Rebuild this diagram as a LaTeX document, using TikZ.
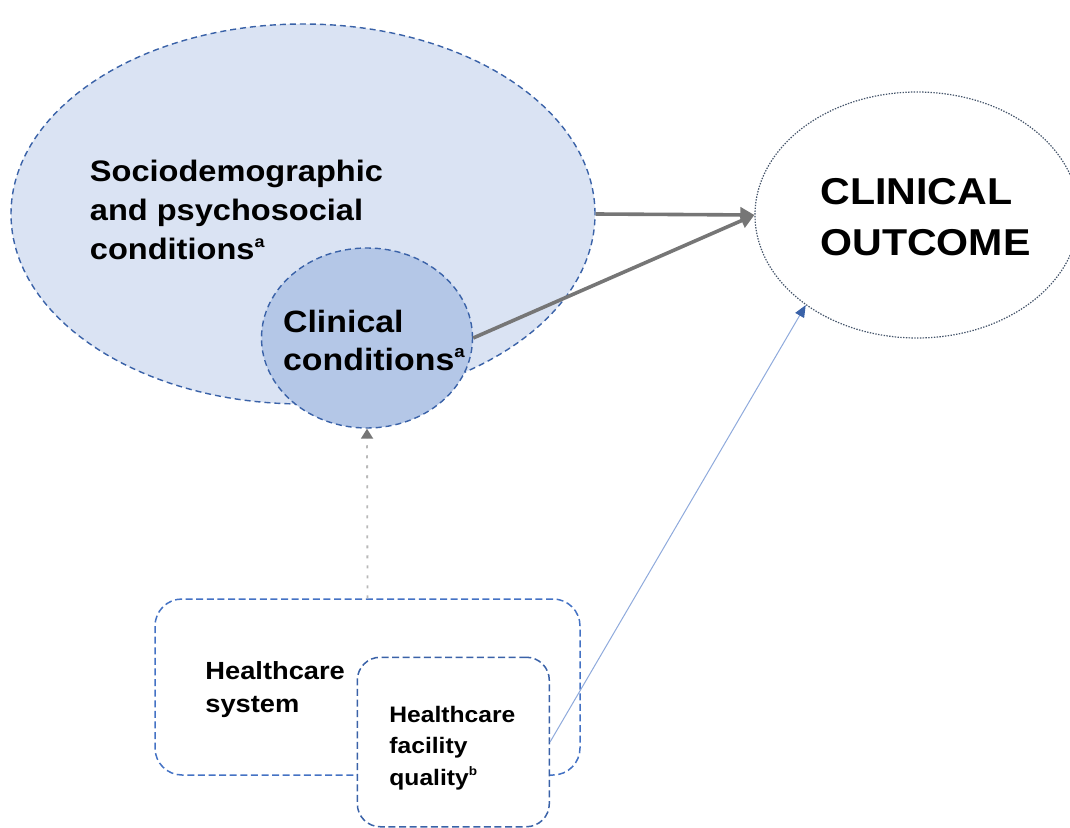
\documentclass[tikz,border=0pt]{standalone}
\usepackage{fontspec}
\setmainfont{Liberation Sans}[FakeStretch=1.1]
\usetikzlibrary{arrows.meta,shapes.geometric}

\definecolor{socfill}{HTML}{DAE3F3}
\definecolor{clinfill}{HTML}{B4C7E7}
\definecolor{rimblue}{HTML}{4472C4}
\definecolor{deepblue}{HTML}{3A62A8}
\definecolor{paleblue}{HTML}{8FAADC}
\definecolor{arrowgray}{HTML}{767676}
\definecolor{dotgray}{HTML}{B8B8B8}
\definecolor{goalrim}{HTML}{44546A}

\newcommand{\notemark}[1]{\raisebox{0.42em}{\fontsize{0.55em}{0.6em}\selectfont #1}}

\begin{document}
\begin{tikzpicture}[x = 0.5pt, y = -0.5pt,
  blob/.style  = {ellipse, draw = deepblue, line width = 0.7pt, dash pattern = on 3pt off 2pt, inner sep = 0pt},
  goal/.style  = {ellipse, draw = goalrim, line width = 0.6pt, dash pattern = on 0.7pt off 0.7pt, fill = white, inner sep = 0pt},
  care/.style  = {rectangle, draw = rimblue, line width = 0.75pt, dash pattern = on 3.5pt off 1.8pt, fill = white, inner sep = 0pt},
  lbl/.style   = {font = \bfseries, align = left, inner sep = 0pt, anchor = north west},
  flow/.style  = {draw = arrowgray, line width = 1.8pt, -{Triangle[length = 7pt, width = 7.5pt]}},
  hint/.style  = {draw = dotgray, line width = 0.9pt, dash pattern = on 1.5pt off 3.5pt, -{Triangle[length = 5pt, width = 6pt, color = arrowgray]}},
  link/.style  = {draw = paleblue, line width = 0.5pt, -{Triangle[length = 6pt, width = 5pt, color = deepblue]}}]

  \useasboundingbox (0,0) rectangle (1070,828);

  % Conditions of the patient
  \node[blob, fill = socfill,  minimum width = 292pt,   minimum height = 190pt] (socio) at (303,214) {};
  \node[blob, fill = clinfill, minimum width = 105.5pt, minimum height = 90pt]  (clin)  at (367,338) {};

  \node[lbl, font = \bfseries\fontsize{14.8}{19.4}\selectfont] (sociotxt) at (89.5,160)
    {Sociodemographic\\and psychosocial\\conditions\notemark{a}};
  \node[lbl, font = \bfseries\fontsize{15.4}{18.65}\selectfont] (clintxt) at (282.7,310.2)
    {Clinical\\conditions\notemark{a}};

  % Outcome
  \node[goal, minimum width = 162pt, minimum height = 123pt] (outcome) at (917,215) {};
  \node[lbl, font = \bfseries\fontsize{18.7}{25.85}\selectfont] (outtxt) at (820,177.7)
    {CLINICAL\\OUTCOME};

  % Healthcare system and facility
  \node[care, rounded corners = 13.5pt, minimum width = 212.5pt, minimum height = 88pt]   (sys) at (367.5,687) {};
  \node[care, rounded corners = 11.5pt, draw = deepblue, minimum width = 96pt, minimum height = 84.75pt] (fac) at (453.3,742) {};

  \node[lbl, font = \bfseries\fontsize{12.4}{16.2}\selectfont] (systxt) at (205,661.4)
    {Healthcare\\system};
  \node[lbl, font = \bfseries\fontsize{11.2}{15.8}\selectfont] (factxt) at (389,705.5)
    {Healthcare\\facility\\quality\notemark{b}};

  % Connectors
  \draw[flow] (socio.east) -- (outcome.west);
  \draw[flow] (clin.east)  -- (outcome.west);
  \draw[hint] (sys.north)  -- (clin.south);
  \draw[link] (fac.east)   -- (outcome.219);

\end{tikzpicture}
\end{document}
